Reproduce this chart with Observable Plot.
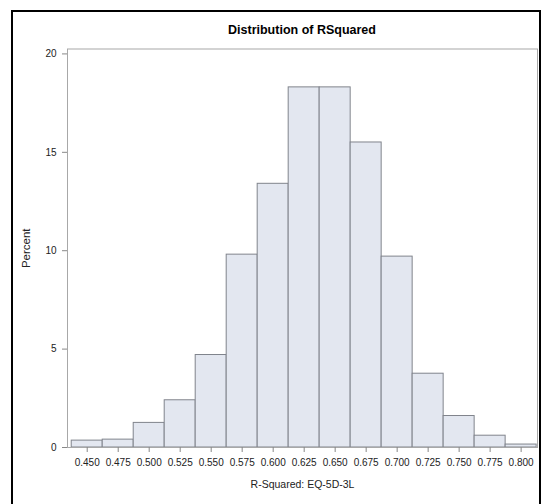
<!DOCTYPE html>
<html>
<head>
<meta charset="utf-8">
<script src="https://cdn.jsdelivr.net/npm/d3@7"></script>
<script src="https://cdn.jsdelivr.net/npm/@observablehq/plot@0.6"></script>
<style>
  html, body { margin: 0; padding: 0; background: #fff; width: 542px; height: 504px; overflow: hidden; }
  #frame { position: absolute; left: 11px; top: 10px; width: 526px; height: 520px; z-index: 2;
           border-left: 2px solid #000; border-top: 2px solid #000; border-right: 2px solid #000; }
  #title { position: absolute; left: 67px; width: 470px; top: 23px; text-align: center; z-index: 3;
           font-family: "Liberation Sans", Arial, sans-serif; font-weight: bold; font-size: 12.5px; color: #000; }
  #chart { position: absolute; left: 0; top: 40px; z-index: 1; }
</style>
</head>
<body>
<div id="frame"></div>
<div id="title">Distribution of RSquared</div>
<div id="chart"></div>
<script>
const midpoints = [0.450, 0.475, 0.500, 0.525, 0.550, 0.575, 0.600, 0.625, 0.650, 0.675, 0.700, 0.725, 0.750, 0.775, 0.800];
const percents  = [0.35, 0.4, 1.25, 2.4, 4.7, 9.8, 13.4, 18.3, 18.3, 15.5, 9.7, 3.75, 1.6, 0.6, 0.15];
const binWidth = 0.025;
const yTicks = [0, 5, 10, 15, 20];
const xTicks = midpoints;
const xLabel = "R-Squared: EQ-5D-3L";
const yLabel = "Percent";

const bins = midpoints.map((m, i) => ({x1: m - binWidth / 2, x2: m + binWidth / 2, y: percents[i]}));

const chart = Plot.plot({
  width: 542,
  height: 464,
  marginLeft: 67,
  marginRight: 5,
  marginTop: 8.5,
  marginBottom: 57,
  style: {fontFamily: "'Liberation Sans', Arial, sans-serif", fontSize: "10px", color: "#222", background: "transparent"},
  x: {domain: [0.4341, 0.8132]},
  y: {domain: [0, 20.25]},
  marks: [
    Plot.rectY(bins, {x1: "x1", x2: "x2", y: "y", fill: "#e3e7f0", stroke: "#80848c", strokeWidth: 1, insetLeft: 0, insetRight: 0}),
    Plot.frame({stroke: "#a8a8a8"}),
    Plot.axisY({ticks: yTicks, tickSize: 5, tickPadding: 6, stroke: "#888", label: null}),
    Plot.axisY({ticks: [], label: yLabel, labelAnchor: "center", labelOffset: 46, labelArrow: "none", fontSize: 11.5}),
    Plot.axisX({ticks: xTicks, tickFormat: d3.format(".3f"), tickSize: 5, tickPadding: 6, stroke: "#888", label: null}),
    Plot.axisX({ticks: [], label: xLabel, labelAnchor: "center", labelOffset: 40, labelArrow: "none", fontSize: 10.5})
  ]
});
document.getElementById("chart").appendChild(chart);
</script>
</body>
</html>
